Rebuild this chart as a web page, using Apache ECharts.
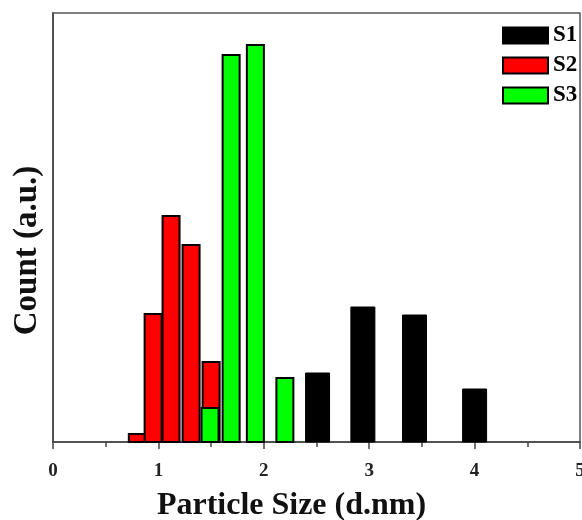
<!DOCTYPE html>
<html>
<head>
<meta charset="utf-8">
<script src="https://cdn.jsdelivr.net/npm/echarts@6/dist/echarts.min.js"></script>
<style>html,body{margin:0;padding:0;background:#fff}#c{width:582px;height:520px}</style>
</head>
<body>
<div id="c"></div>
<script>
var seriesNames = ['S1', 'S2', 'S3'];
var s1Data = [[2.51, 69], [2.94, 135], [3.43, 127], [4.00, 53]];
var s2Data = [[0.80, 8], [0.95, 128], [1.12, 226], [1.31, 197], [1.50, 80]];
var s3Data = [[1.49, 34], [1.69, 387], [1.92, 397], [2.20, 64]];
var xTicks = [0, 1, 2, 3, 4, 5];

var font = 'Liberation Serif, Times New Roman, serif';

function barRenderer(width, fill, stroke, lw) {
  return function (params, api) {
    var top = api.coord([api.value(0), api.value(1)]);
    var base = api.coord([api.value(0), 0]);
    return {
      type: 'rect',
      shape: {x: top[0] - width / 2, y: top[1], width: width, height: base[1] - top[1]},
      style: {fill: fill, stroke: stroke, lineWidth: lw}
    };
  };
}

var chart = echarts.init(document.getElementById('c'), null, {renderer: 'canvas'});
chart.setOption({
  animation: false,
  backgroundColor: '#fff',
  grid: {left: 53, top: 13, right: 2, bottom: 78, containLabel: false, outerBoundsMode: 'none',
         show: true, borderColor: '#555', borderWidth: 1.5},
  legend: {
    data: seriesNames, orient: 'vertical', left: 497, top: 19,
    icon: 'rect', itemWidth: 45, itemHeight: 16, itemGap: 7,
    textStyle: {fontFamily: font, fontWeight: 'bold', fontSize: 23, color: '#000'}
  },
  xAxis: {
    type: 'value', min: xTicks[0], max: xTicks[xTicks.length - 1], interval: 1,
    name: 'Particle Size (d.nm)', nameLocation: 'middle', nameGap: 48,
    nameTextStyle: {fontFamily: font, fontWeight: 'bold', fontSize: 32, color: '#111', padding: [0, 50, 0, 0]},
    axisLine: {lineStyle: {color: '#444', width: 1.5}},
    axisTick: {length: 7, lineStyle: {color: '#444', width: 1.5}},
    minorTick: {show: true, splitNumber: 2, length: 5, lineStyle: {color: '#444', width: 1.5}},
    splitLine: {show: false},
    axisLabel: {margin: 20, fontFamily: font, fontWeight: 'bold', fontSize: 19, color: '#222'}
  },
  yAxis: {
    type: 'value', min: 0, max: 429,
    name: 'Count (a.u.)', nameLocation: 'middle', nameGap: 9, nameRotate: 90,
    nameTextStyle: {fontFamily: font, fontWeight: 'bold', fontSize: 33, color: '#111', padding: [0, 46, 0, 0]},
    axisLine: {show: true, lineStyle: {color: '#444', width: 1.5}},
    axisTick: {show: false}, axisLabel: {show: false}, splitLine: {show: false}
  },
  series: [
    {name: 'S1', type: 'custom', data: s1Data, encode: {x: 0, y: 1},
     itemStyle: {color: '#000', borderColor: '#000', borderWidth: 1},
     renderItem: barRenderer(24, '#000', '#000', 1)},
    {name: 'S2', type: 'custom', data: s2Data, encode: {x: 0, y: 1},
     itemStyle: {color: '#ff0000', borderColor: '#000', borderWidth: 2},
     renderItem: barRenderer(17, '#ff0000', '#000', 2)},
    {name: 'S3', type: 'custom', data: s3Data, encode: {x: 0, y: 1},
     itemStyle: {color: '#00ff00', borderColor: '#000', borderWidth: 2},
     renderItem: barRenderer(17, '#00ff00', '#000', 2)}
  ]
});
</script>
</body>
</html>
